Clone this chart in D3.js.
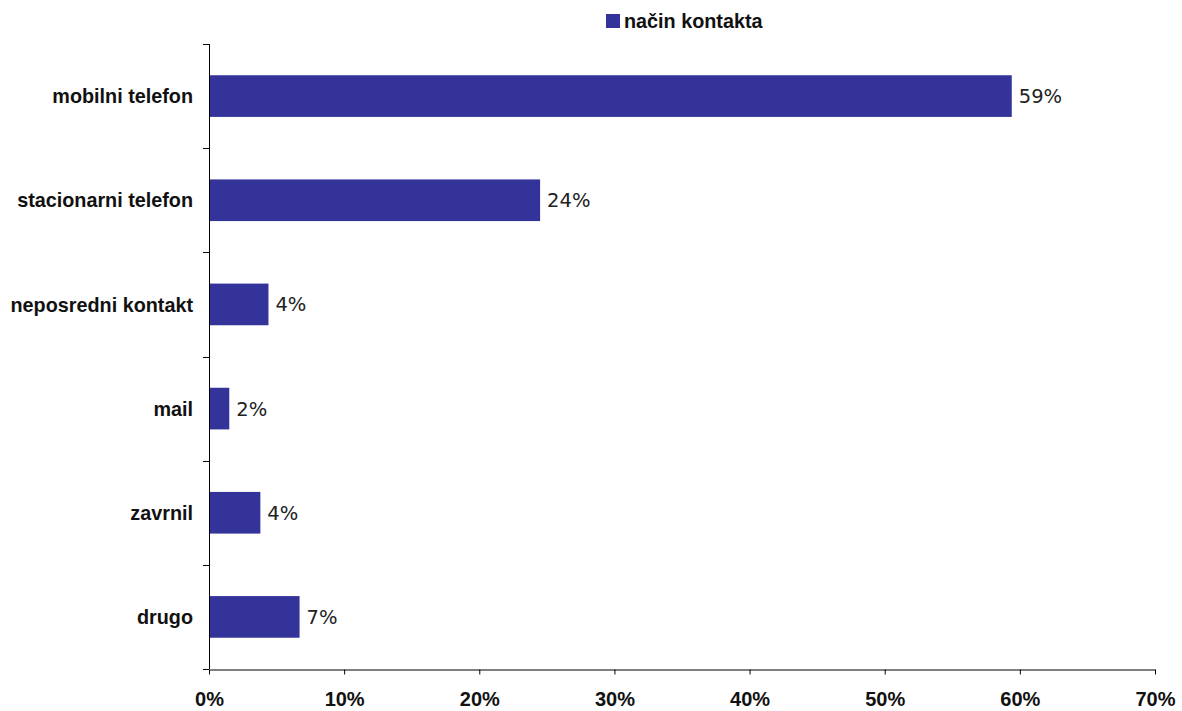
<!DOCTYPE html>
<html>
<head>
<meta charset="utf-8">
<script src="https://cdn.jsdelivr.net/npm/d3@7"></script>
<style>
  body { margin: 0; background: #fff; }
  svg { display: block; }
</style>
</head>
<body>
<script>
const categories = ['mobilni telefon', 'stacionarni telefon', 'neposredni kontakt', 'mail', 'zavrnil', 'drugo']
const values = [59.4, 24.5, 4.4, 1.5, 3.8, 6.7]
const valueLabels = ['59%', '24%', '4%', '2%', '4%', '7%']
const xTicks = [0, 10, 20, 30, 40, 50, 60, 70]
const seriesName = 'način kontakta'

const W = 1182, H = 711
const m = {top: 44, right: 27, bottom: 42, left: 209}
const barColor = '#333399'

const svg = d3.select('body').append('svg')
    .attr('width', W).attr('height', H)

const x = d3.scaleLinear().domain([0, 70]).range([m.left, W - m.right])
const y = d3.scaleBand().domain(categories)
    .range([m.top, H - m.bottom])
    .paddingInner(0.6).paddingOuter(0.3)

// bars
svg.selectAll('rect.bar')
    .data(categories)
    .join('rect')
    .attr('class', 'bar')
    .attr('x', x(0))
    .attr('y', d => y(d))
    .attr('width', (d, i) => x(values[i]) - x(0))
    .attr('height', y.bandwidth())
    .attr('fill', barColor)

// value labels
svg.selectAll('text.val')
    .data(categories)
    .join('text')
    .attr('class', 'val')
    .attr('x', (d, i) => x(values[i]) + 7)
    .attr('y', d => y(d) + y.bandwidth() / 2)
    .attr('dy', '0.36em')
    .style('font-family', '"DejaVu Sans", Verdana, sans-serif')
    .style('font-size', '19.5px')
    .attr('fill', '#222')
    .text((d, i) => valueLabels[i])

// y axis: line plus ticks between categories
const step = y.step()
const yTop = m.top, yBot = H - m.bottom
svg.append('line')
    .attr('x1', x(0) + 0.5).attr('x2', x(0) + 0.5)
    .attr('y1', yTop).attr('y2', yBot)
    .attr('stroke', '#000')
d3.range(categories.length + 1).forEach(k => {
    const yy = Math.round(yTop + k * step) + 0.5
    svg.append('line')
        .attr('x1', x(0) - 6).attr('x2', x(0))
        .attr('y1', yy).attr('y2', yy)
        .attr('stroke', '#000')
})

// category labels
svg.selectAll('text.cat')
    .data(categories)
    .join('text')
    .attr('class', 'cat')
    .attr('x', x(0) - 16)
    .attr('y', d => y(d) + y.bandwidth() / 2)
    .attr('dy', '0.36em')
    .attr('text-anchor', 'end')
    .style('font-family', '"Liberation Sans", Arial, sans-serif')
    .style('font-weight', 'bold')
    .style('font-size', '19.8px')
    .attr('fill', '#111')
    .text(d => d)

// x axis
const xAxis = svg.append('g')
    .attr('transform', `translate(0,${yBot + 0.5})`)
    .call(d3.axisBottom(x).tickValues(xTicks).tickSize(5).tickSizeOuter(0)
        .tickFormat(d => d + '%'))
xAxis.select('.domain').attr('stroke', '#000')
xAxis.selectAll('.tick line').attr('stroke', '#000')
xAxis.selectAll('.tick text')
    .attr('y', 22).attr('dy', '0.71em')
    .style('font-family', '"Liberation Sans", Arial, sans-serif')
    .style('font-weight', 'bold')
    .style('font-size', '20px')
    .attr('fill', '#111')

// legend
const lg = svg.append('g').attr('transform', 'translate(606,14)')
lg.append('rect').attr('width', 14).attr('height', 14).attr('fill', barColor)
lg.append('text')
    .attr('x', 18).attr('y', 7).attr('dy', '0.36em')
    .style('font-family', '"Liberation Sans", Arial, sans-serif')
    .style('font-weight', 'bold')
    .style('font-size', '19.8px')
    .attr('fill', '#111')
    .text(seriesName)
</script>
</body>
</html>
